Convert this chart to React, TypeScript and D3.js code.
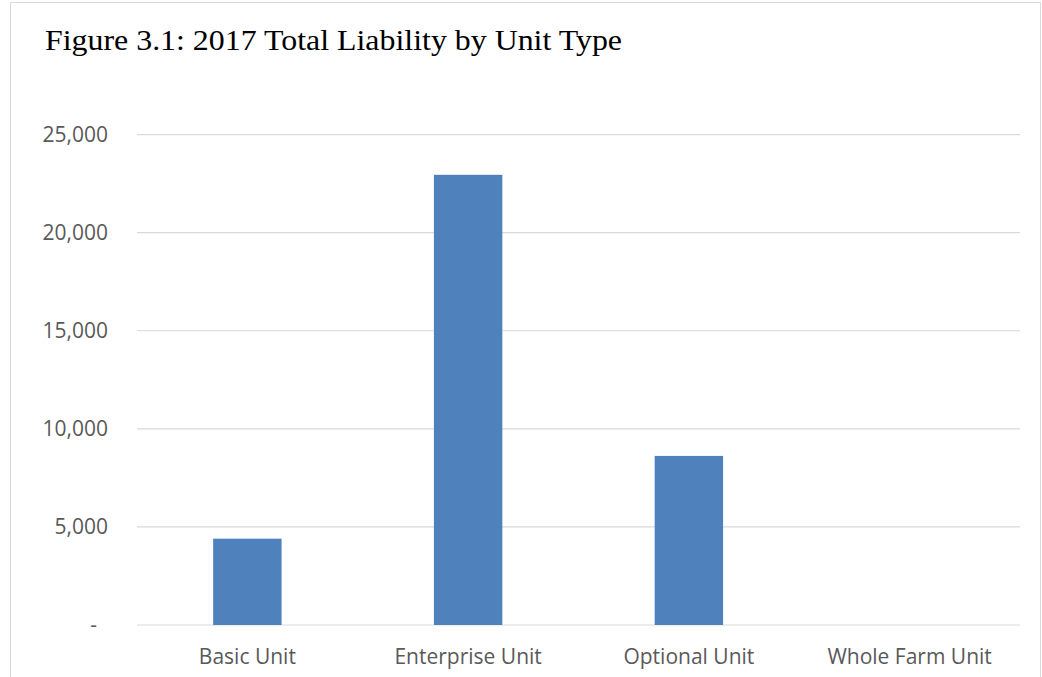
import React from "react";
import * as d3 from "d3";

const categories = ["Basic Unit", "Enterprise Unit", "Optional Unit", "Whole Farm Unit"];
const values = [4400, 22950, 8620, 0];
const yTicks = [0, 5000, 10000, 15000, 20000, 25000];
const title = "Figure 3.1: 2017 Total Liability by Unit Type";

const W = 1042;
const H = 677;
const left = 137;
const right = 1020;
const top = 134.6;
const bottom = 625;

export default function App() {
  const x = d3.scaleBand<string>().domain(categories).range([left, right]).padding(0);
  const y = d3.scaleLinear().domain([0, 25000]).range([bottom, top]);
  const barW = x.bandwidth() * 0.31;
  const fmt = (v: number) => (v === 0 ? "-" : d3.format(",")(v));
  const font = "'Open Sans', 'Noto Sans', sans-serif";
  return (
    <svg width={W} height={H} style={{ position: "absolute", left: 0, top: 0, background: "#fff" }}>
      <rect x={10.5} y={2.5} width={1030} height={700} fill="#fff" stroke="#d9d9d9" strokeWidth={1} />
      <text
        x={45}
        y={49.5}
        fontFamily="'Liberation Serif', 'Times New Roman', serif"
        fontSize={30}
        textLength={577}
        lengthAdjust="spacingAndGlyphs"
        fill="#000"
      >
        {title}
      </text>
      {yTicks.map((t) => (
        <g key={t}>
          <line x1={left} x2={right} y1={y(t)} y2={y(t)} stroke="#d9d9d9" strokeWidth={1.2} />
          <text
            x={t === 0 ? 97 : 108}
            y={y(t)}
            dy="0.35em"
            textAnchor="end"
            fontFamily={font}
            fontSize={21}
            fill="#595959"
          >
            {fmt(t)}
          </text>
        </g>
      ))}
      {categories.map((c, i) => (
        <g key={c}>
          <rect
            x={(x(c) as number) + x.bandwidth() / 2 - barW / 2}
            y={y(values[i])}
            width={barW}
            height={bottom - y(values[i])}
            fill="#4f81bd"
          />
          <text
            x={(x(c) as number) + x.bandwidth() / 2}
            y={664}
            textAnchor="middle"
            fontFamily={font}
            fontSize={21}
            fill="#595959"
          >
            {c}
          </text>
        </g>
      ))}
    </svg>
  );
}
